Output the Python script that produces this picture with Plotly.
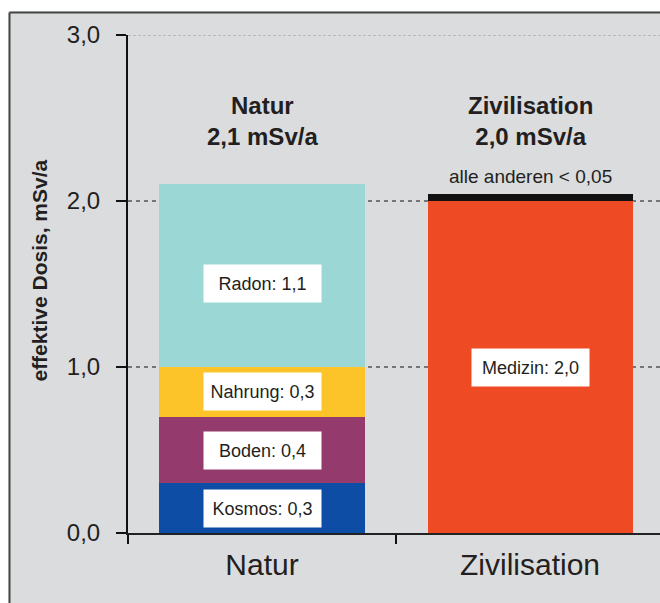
import plotly.graph_objects as go

# Categories and dose components (mSv per year)
categories = ["Natur", "Zivilisation"]

natur_names = ["Kosmos", "Boden", "Nahrung", "Radon"]
natur_values = [0.3, 0.4, 0.3, 1.1]
natur_colors = ["#0d4da5", "#943a6c", "#fdc42a", "#9bd8d5"]

ziv_names = ["Medizin", "alle anderen"]
ziv_values = [2.0, 0.04]
ziv_colors = ["#ee4a23", "#111111"]

y_ticks = [0, 1, 2, 3]

BG = "#dbdcde"
TXT = "#231f20"
FONT = "Liberation Sans, Arial, sans-serif"
BAR_W = 0.765


def de(v):
    return f"{v:.1f}".replace(".", ",")


fig = go.Figure()

for name, val, col in zip(natur_names, natur_values, natur_colors):
    fig.add_trace(go.Bar(x=[categories[0]], y=[val], name=name, width=BAR_W,
                         marker=dict(color=col, line=dict(width=0)),
                         hoverinfo="name+y"))
for name, val, col in zip(ziv_names, ziv_values, ziv_colors):
    fig.add_trace(go.Bar(x=[categories[1]], y=[val], name=name, width=BAR_W,
                         marker=dict(color=col, line=dict(width=0)),
                         hoverinfo="name+y"))

annotations = []

# white value boxes inside the stacked segments
base = 0.0
for name, val in zip(natur_names, natur_values):
    mid = base + val / 2
    annotations.append(dict(
        x=categories[0], y=mid, xref="x", yref="y",
        text=f"{name}: {de(val)}", showarrow=False,
        font=dict(size=18, color=TXT, family=FONT),
        bgcolor="white", width=115, height=35,
        yshift=-8 if name == "Radon" else 0,
    ))
    base += val

annotations.append(dict(
    x=categories[1], y=ziv_values[0] / 2, xref="x", yref="y",
    text=f"{ziv_names[0]}: {de(ziv_values[0])}", showarrow=False,
    font=dict(size=18, color=TXT, family=FONT),
    bgcolor="white", width=115, height=35,
))
annotations.append(dict(
    x=categories[1], y=sum(ziv_values), xref="x", yref="y",
    text="alle anderen < 0,05", showarrow=False, yanchor="bottom", yshift=5,
    font=dict(size=19, color=TXT, family=FONT),
))

# category totals above the bars
for cat, total in zip(categories, [sum(natur_values), sum(ziv_values)]):
    annotations.append(dict(
        x=cat, y=2.48, xref="x", yref="y",
        text=f"<b>{cat}</b><br><b>{de(total)} mSv/a</b>", showarrow=False,
        font=dict(size=24, color=TXT, family=FONT),
    ))

# y axis title
annotations.append(dict(
    x=0, y=0.526, xref="paper", yref="paper", xshift=-102,
    text="<b>effektive Dosis, mSv/a</b>", textangle=-90, showarrow=False,
    font=dict(size=21, color=TXT, family=FONT),
))

shapes = []
# dashed reference lines
for v in y_ticks[1:]:
    top = v == y_ticks[-1]
    shapes.append(dict(
        type="line", xref="paper", yref="y", x0=0, x1=1, y0=v, y1=v,
        layer="below",
        line=dict(color="#8c9aa8" if top else "#111111", width=1.2,
                  dash="3px,2px" if top else "4px,4px"),
    ))

# outer frame: white margin at top and left, dark border
def px_x(p):
    return (p - 128) / 532


def px_y(p):
    return (533 - p) / 498


shapes += [
    dict(type="rect", xref="paper", yref="paper", layer="above",
         x0=px_x(-5), x1=px_x(670), y0=px_y(11.5), y1=px_y(-5),
         fillcolor="white", line=dict(width=0)),
    dict(type="rect", xref="paper", yref="paper", layer="above",
         x0=px_x(-5), x1=px_x(8.5), y0=px_y(610), y1=px_y(-5),
         fillcolor="white", line=dict(width=0)),
    dict(type="line", xref="paper", yref="paper", layer="above",
         x0=px_x(9.5), x1=px_x(670), y0=px_y(12.5), y1=px_y(12.5),
         line=dict(color="#454545", width=2)),
    dict(type="line", xref="paper", yref="paper", layer="above",
         x0=px_x(9.5), x1=px_x(9.5), y0=px_y(610), y1=px_y(12.5),
         line=dict(color="#454545", width=2)),
]

fig.update_layout(
    width=660, height=603,
    margin=dict(l=128, r=0, t=35, b=70),
    paper_bgcolor=BG, plot_bgcolor="rgba(0,0,0,0)",
    barmode="stack", bargap=0, showlegend=False,
    separators=",.",
    font=dict(family=FONT, color=TXT),
    annotations=annotations, shapes=shapes,
    xaxis=dict(
        range=[-0.5, 1.485], showgrid=False, zeroline=False,
        showline=True, linecolor="#222222", linewidth=1.5,
        ticks="outside", tickson="boundaries", ticklen=9, tickwidth=2,
        tickcolor="#111111", tickfont=dict(size=30, color=TXT, family=FONT),
        ticklabelstandoff=4, fixedrange=True,
    ),
    yaxis=dict(
        range=[0, 3], tickvals=y_ticks, tickformat=".1f",
        showgrid=False, zeroline=False,
        showline=True, linecolor="#111111", linewidth=2,
        ticks="outside", ticklen=10, tickwidth=2, tickcolor="#111111",
        tickfont=dict(size=24, color=TXT, family=FONT),
        ticklabelstandoff=11, fixedrange=True,
    ),
)

fig.write_html("out.html")
